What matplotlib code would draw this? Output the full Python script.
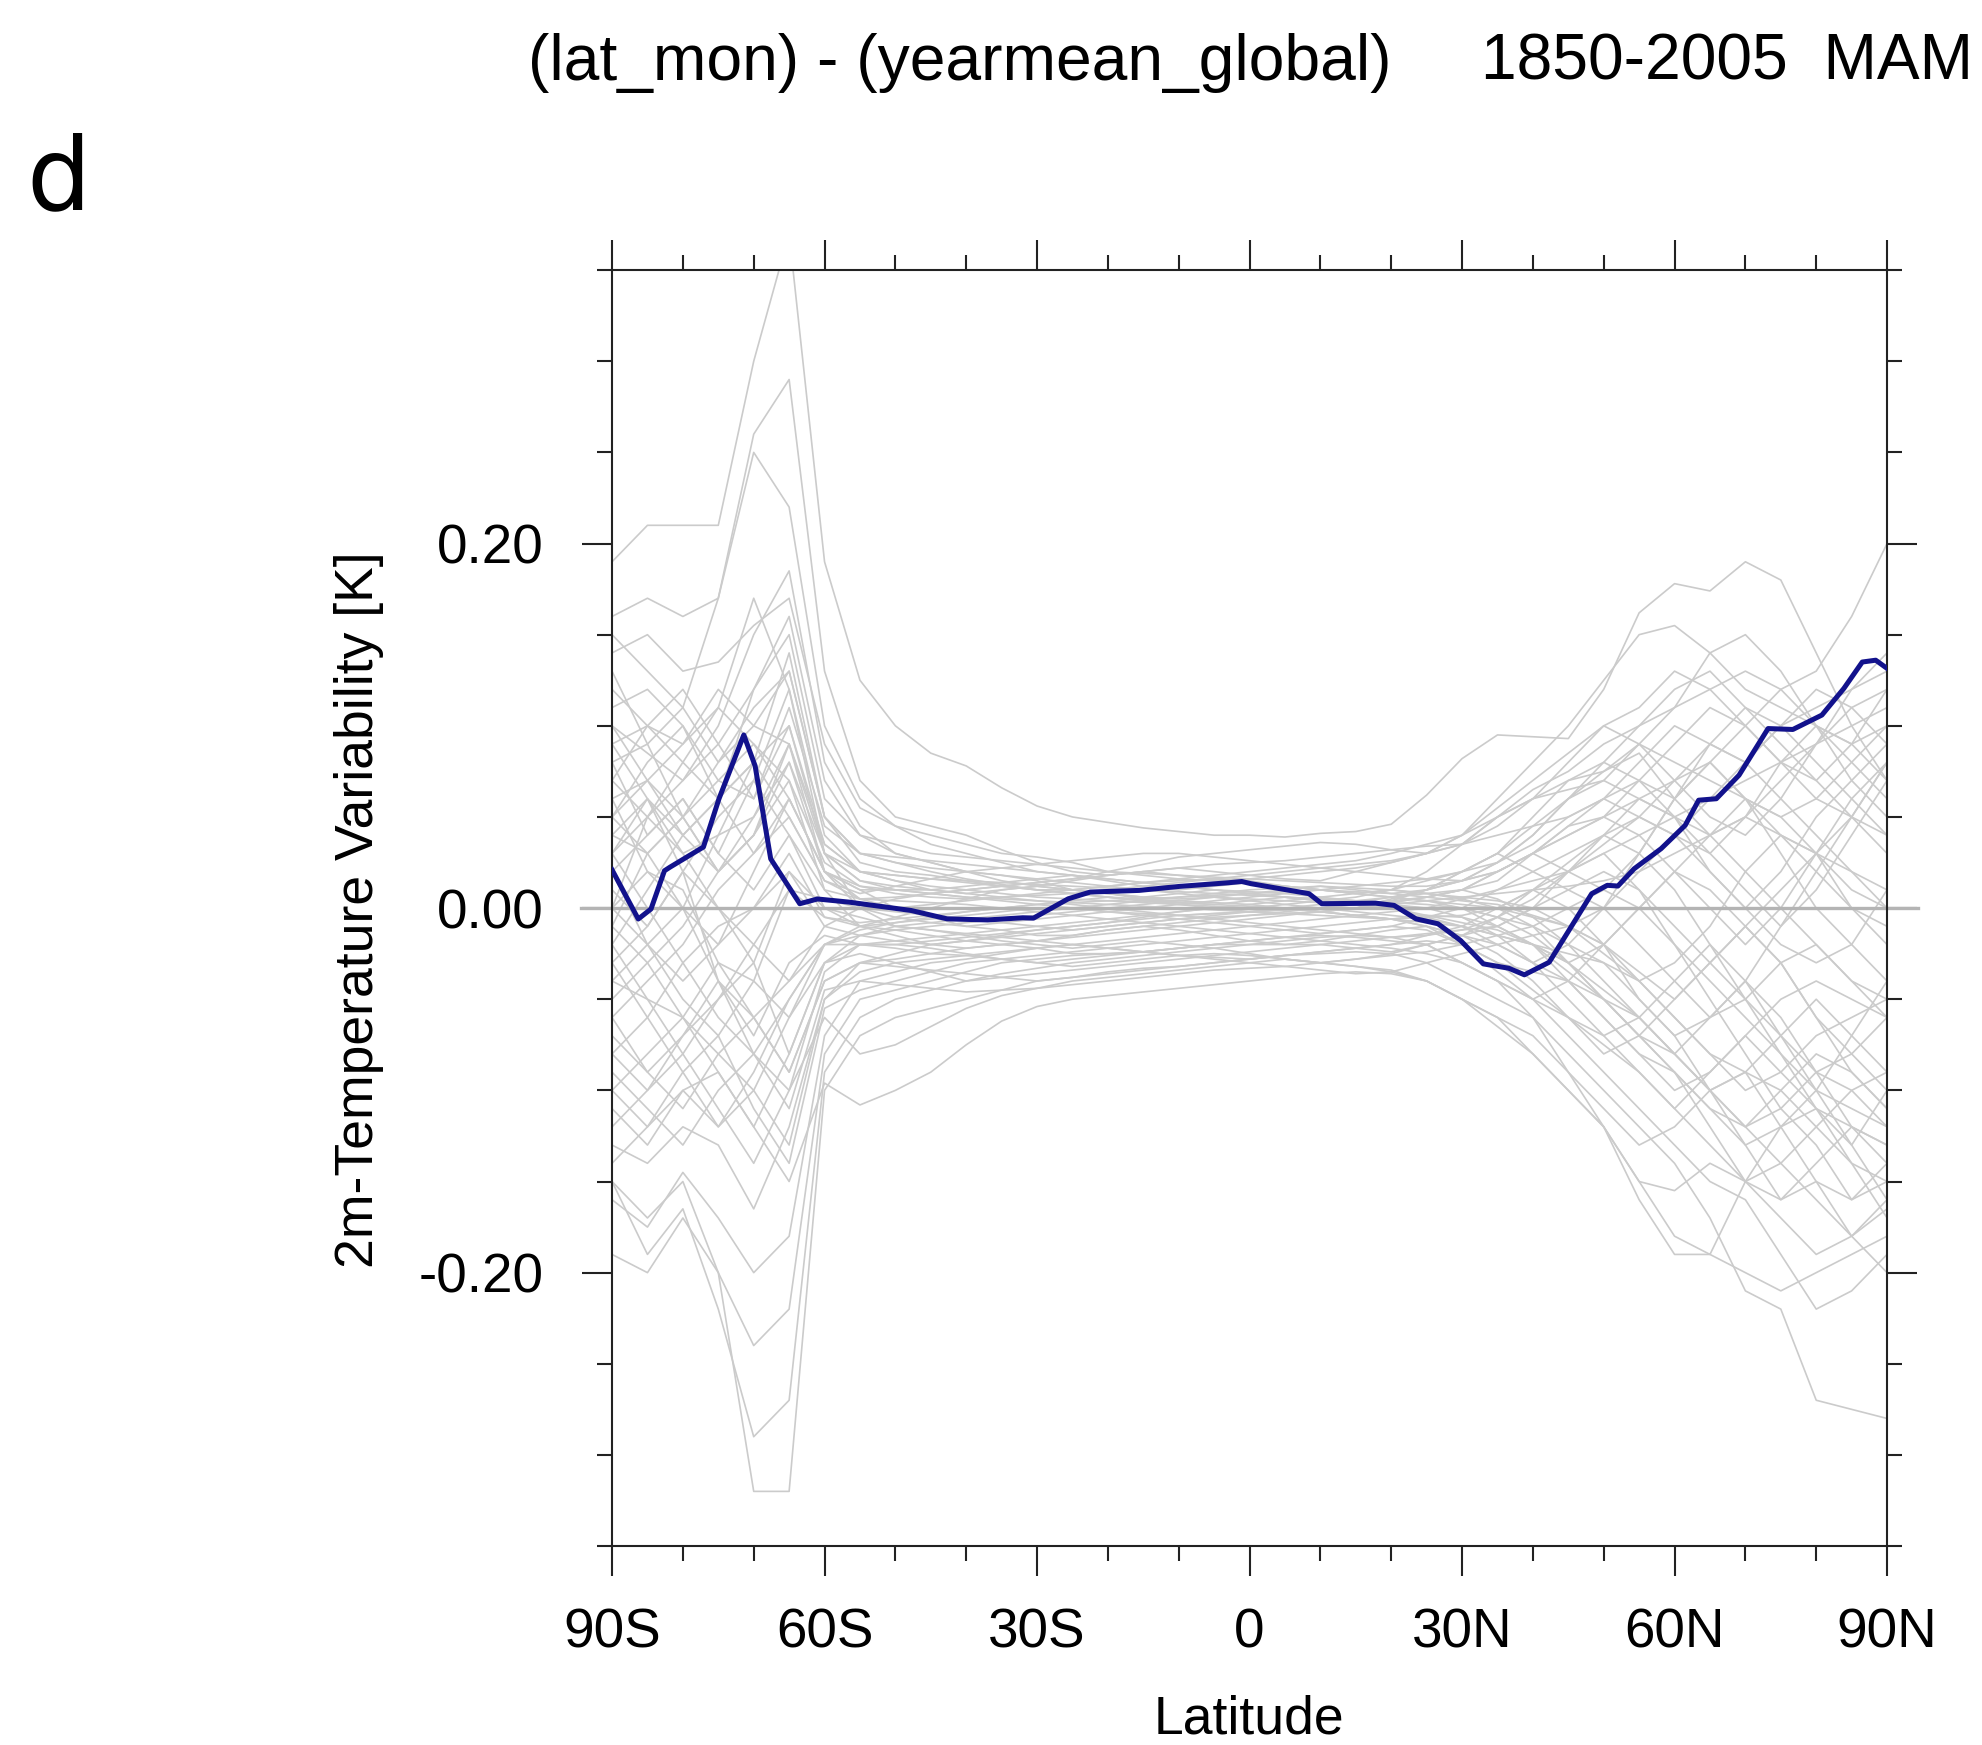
import matplotlib
import matplotlib.pyplot as plt
from matplotlib.ticker import MultipleLocator, FixedLocator

matplotlib.use("Agg")  # no display

# Latitude grid shared by the ensemble members (5 degree steps, 90S..90N)
lat_members = [-90, -85, -80, -75, -70, -65, -60, -55, -50, -45, -40, -35, -30,
               -25, -20, -15, -10, -5, 0, 5, 10, 15, 20, 25, 30, 35, 40, 45,
               50, 55, 60, 65, 70, 75, 80, 85, 90]

# Gray ensemble members, 2m temperature variability [K]
member_01 = [.19, .21, .21, .21, .30, .37, .19, .125, .10, .085, .078, .066, .056, .05, .047, .044, .042, .040, .040,
             .039, .041, .042, .046, .062, .082, .095, .094, .093, .12, .162, .178, .174, .19, .18, .14, .10, .07]
member_02 = [.16, .17, .16, .17, .26, .29, .13, .07, .05, .045, .04, .032, .025, .02, .018, .02, .022, .02, .018,
             .016, .015, .02, .025, .03, .035, .05, .06, .07, .075, .085, .06, .08, .10, .12, .13, .16, .20]
member_03 = [.14, .15, .13, .135, .155, .17, .09, .055, .045, .04, .035, .03, .028, .025, .02, .018, .016, .015, .016,
             .018, .02, .022, .025, .03, .04, .06, .08, .10, .125, .15, .155, .14, .12, .11, .10, .09, .10]
member_04 = [.08, .09, .11, .17, .25, .22, .10, .06, .045, .035, .03, .025, .02, .018, .015, .012, .01, .012, .014,
             .012, .01, .008, .01, .015, .02, .03, .045, .06, .07, .06, .05, .04, .05, .07, .09, .11, .12]
member_05 = [.10, .085, .07, .09, .12, .15, .06, .04, .03, .025, .02, .015, .012, .01, .008, .006, .005, .006, .008,
             .01, .012, .01, .008, .01, .015, .02, .03, .04, .05, .07, .09, .11, .10, .08, .06, .05, .03]
member_06 = [.03, .05, .07, .10, .15, .185, .08, .045, .03, .025, .02, .018, .015, .01, .008, .005, .003, .002, .004,
             .006, .004, .002, .0, -.005, -.01, -.015, -.02, -.03, -.05, -.07, -.09, -.11, -.12, -.10, -.08, -.09, -.11]
member_07 = [.09, .10, .09, .11, .17, .12, .04, .02, .015, .012, .01, .008, .006, .005, .004, .003, .002, .001, .0,
             .002, .004, .006, .01, .02, .035, .05, .065, .075, .09, .10, .11, .12, .13, .12, .10, .08, .06]
member_08 = [.12, .10, .08, .06, .08, .14, .05, .03, .025, .02, .016, .013, .01, .008, .006, .004, .002, .0, -.002,
             -.003, -.002, .0, .005, .01, .02, .03, .02, .01, .0, -.02, -.04, -.06, -.05, -.03, -.02, -.04, -.06]
member_09 = [.06, .07, .09, .12, .10, .09, .03, .015, .01, .008, .006, .004, .002, .0, -.002, -.003, -.004, -.003,
             -.002, -.001, .0, .002, .004, .01, .015, .025, .04, .06, .075, .09, .08, .07, .06, .05, .06, .08, .10]
member_10 = [.04, .03, .05, .08, .11, .13, .05, .025, .02, .018, .015, .012, .01, .01, .012, .014, .016, .018, .02,
             .022, .024, .026, .03, .035, .04, .05, .06, .065, .07, .09, .11, .14, .15, .13, .10, .07, .05]
member_11 = [.05, .03, .0, -.02, .02, .06, .02, .01, .0, -.005, -.01, -.012, -.015, -.015, -.012, -.01, -.012, -.015,
             -.018, -.02, -.018, -.015, -.012, -.01, -.015, -.02, -.03, -.04, -.06, -.08, -.10, -.09, -.07, -.05, -.04,
             -.05, -.06]
member_12 = [-.02, .01, .04, .06, .08, .10, .03, .0, -.01, -.012, -.015, -.018, -.02, -.022, -.02, -.018, -.02, -.022,
             -.025, -.028, -.03, -.028, -.025, -.02, -.015, -.01, .0, .01, .02, .01, -.01, -.03, -.05, -.07, -.10,
             -.13, -.16]
member_13 = [.07, .05, .03, .04, .05, .08, .02, .005, .0, .002, .004, .006, .008, .01, .012, .014, .015, .016, .015,
             .012, .01, .008, .006, .004, .0, -.01, -.02, -.03, -.02, .0, .02, .04, .06, .05, .03, .01, .0]
member_14 = [-.05, -.03, -.01, .02, .04, .07, .01, -.01, -.015, -.02, -.022, -.02, -.018, -.015, -.012, -.01, -.008,
             -.006, -.004, -.002, .0, .003, .006, .01, .02, .03, .05, .07, .08, .07, .05, .02, .0, -.02, -.03, -.02, .01]
member_15 = [.02, .04, .06, .03, .01, .04, .0, -.01, -.012, -.015, -.018, -.02, -.022, -.025, -.025, -.024, -.022,
             -.02, -.018, -.016, -.015, -.016, -.018, -.02, -.03, -.04, -.05, -.06, -.07, -.09, -.11, -.13, -.15, -.14,
             -.12, -.10, -.09]
member_16 = [-.08, -.06, -.03, -.01, .0, .02, -.01, -.015, -.018, -.02, -.018, -.015, -.012, -.01, -.008, -.005,
             -.002, .0, .002, .004, .006, .008, .01, .008, .005, .0, -.01, -.03, -.05, -.07, -.08, -.06, -.04, -.01,
             .02, .05, .08]
member_17 = [.0, -.02, -.04, -.02, .0, .03, -.005, -.01, -.005, .0, .005, .01, .012, .015, .018, .02, .022, .024,
             .025, .026, .028, .03, .032, .034, .035, .04, .045, .05, .06, .07, .06, .04, .02, .0, -.02, -.04, -.05]
member_18 = [-.04, -.05, -.06, -.03, -.04, -.06, -.03, -.02, -.02, -.022, -.025, -.028, -.03, -.032, -.03, -.028,
             -.026, -.025, -.026, -.028, -.03, -.032, -.035, -.04, -.05, -.06, -.08, -.10, -.12, -.15, -.18, -.19,
             -.15, -.12, -.11, -.14, -.17]
member_19 = [.03, .0, -.03, -.06, -.08, -.05, -.02, -.012, -.008, -.005, -.002, .0, .002, .004, .006, .005, .004,
             .003, .002, .0, -.002, -.004, -.006, -.01, -.02, -.035, -.05, -.07, -.09, -.11, -.13, -.15, -.16, -.19,
             -.22, -.21, -.19]
member_20 = [-.10, -.08, -.06, -.08, -.10, -.06, -.02, -.01, -.008, -.006, -.004, -.002, .0, .0, -.002, -.004, -.006,
             -.008, -.01, -.012, -.014, -.012, -.01, -.005, .0, .01, .02, .03, .04, .03, .01, -.02, -.05, -.08, -.11,
             -.12, -.13]
member_21 = [-.15, -.17, -.15, -.20, -.32, -.32, -.10, -.07, -.06, -.055, -.05, -.045, -.04, -.038, -.035, -.033,
             -.032, -.03, -.028, -.026, -.025, -.024, -.025, -.03, -.04, -.05, -.06, -.08, -.10, -.12, -.14, -.17,
             -.21, -.22, -.27, -.275, -.28]
member_22 = [-.15, -.19, -.165, -.22, -.29, -.27, -.09, -.06, -.05, -.045, -.04, -.036, -.033, -.03, -.028, -.026,
             -.024, -.022, -.02, -.018, -.016, -.015, -.016, -.02, -.03, -.04, -.06, -.09, -.12, -.15, -.155, -.14,
             -.15, -.16, -.15, -.18, -.165]
member_23 = [-.19, -.20, -.17, -.20, -.24, -.22, -.08, -.05, -.045, -.04, -.035, -.03, -.028, -.026, -.025, -.024,
             -.022, -.02, -.018, -.016, -.014, -.012, -.01, -.012, -.02, -.03, -.035, -.04, -.05, -.06, -.08, -.10,
             -.12, -.14, -.16, -.18, -.20]
member_24 = [-.16, -.175, -.145, -.17, -.20, -.18, -.07, -.04, -.035, -.03, -.028, -.025, -.022, -.02, -.018, -.016,
             -.014, -.012, -.01, -.008, -.006, -.004, -.002, .0, .005, .01, .015, .02, .03, .04, .05, .06, .07, .08,
             .09, .10, .11]
member_25 = [-.13, -.14, -.12, -.13, -.165, -.12, -.05, -.03, -.025, -.02, -.018, -.016, -.014, -.012, -.01, -.008,
             -.006, -.004, -.002, .0, .002, .004, .006, .008, .01, .005, -.005, -.02, -.04, -.06, -.08, -.10, -.12,
             -.11, -.09, -.10, -.12]
member_26 = [-.10, -.12, -.10, -.09, -.12, -.15, -.096, -.108, -.10, -.09, -.075, -.062, -.054, -.05, -.048, -.046,
             -.044, -.042, -.04, -.038, -.036, -.035, -.036, -.04, -.05, -.06, -.07, -.09, -.11, -.13, -.12, -.10,
             -.09, -.10, -.12, -.14, -.15]
member_27 = [-.12, -.10, -.08, -.11, -.14, -.10, -.06, -.08, -.075, -.065, -.055, -.048, -.044, -.04, -.038, -.036,
             -.034, -.032, -.03, -.028, -.03, -.032, -.034, -.04, -.05, -.065, -.08, -.10, -.12, -.16, -.19, -.19,
             -.20, -.21, -.20, -.19, -.18]
member_28 = [-.07, -.09, -.11, -.08, -.06, -.09, -.04, -.03, -.028, -.025, -.022, -.02, -.018, -.016, -.014, -.012,
             -.01, -.008, -.006, -.004, -.002, .0, .002, .004, .006, .008, .01, .012, .015, .02, .03, .04, .05, .04,
             .02, .0, -.01]
member_29 = [-.03, -.06, -.09, -.12, -.10, -.13, -.05, -.035, -.03, -.028, -.026, -.024, -.022, -.02, -.022, -.024,
             -.026, -.028, -.03, -.032, -.034, -.036, -.035, -.03, -.025, -.02, -.015, -.01, -.02, -.04, -.06, -.08,
             -.09, -.12, -.15, -.16, -.15]
member_30 = [.0, .02, .01, -.03, -.06, -.04, -.01, .0, .005, .008, .01, .012, .014, .016, .018, .02, .018, .016,
             .014, .012, .01, .008, .006, .004, .002, .0, -.005, -.01, .0, .02, .04, .06, .08, .10, .11, .12, .13]
member_31 = [.05, .07, .05, .02, .05, .09, .035, .02, .018, .016, .015, .014, .013, .012, .011, .01, .009, .008, .007,
             .006, .005, .004, .003, .002, .0, -.005, -.01, -.02, -.03, -.04, -.06, -.08, -.10, -.09, -.07, -.06, -.05]
member_32 = [.09, .06, .03, .0, -.02, .01, .005, .0, -.002, -.004, -.006, -.008, -.01, -.012, -.01, -.008, -.006,
             -.005, -.004, -.003, -.002, .0, .003, .006, .01, .015, .03, .045, .06, .05, .04, .02, .0, .02, .05, .07,
             .09]
member_33 = [-.06, -.04, -.02, .01, .03, .05, .015, .005, .004, .003, .002, .0, -.002, -.004, -.006, -.008, -.01,
             -.012, -.014, -.016, -.018, -.02, -.022, -.025, -.03, -.04, -.05, -.04, -.02, .0, .02, .01, -.01, -.03,
             -.06, -.08, -.10]
member_34 = [.11, .12, .10, .07, .06, .11, .045, .03, .028, .026, .024, .022, .02, .018, .016, .014, .012, .01, .008,
             .006, .005, .004, .003, .006, .01, .02, .03, .04, .05, .06, .07, .08, .06, .04, .03, .05, .08]
member_35 = [-.09, -.11, -.13, -.10, -.08, -.11, -.045, -.04, -.042, -.044, -.046, -.045, -.044, -.042, -.04, -.038,
             -.036, -.034, -.033, -.032, -.03, -.028, -.026, -.024, -.02, -.015, -.01, .0, .01, .0, -.02, -.04, -.06,
             -.08, -.10, -.11, -.12]
member_36 = [.01, -.01, .02, .05, .07, .04, .01, .005, .006, .008, .01, .012, .014, .016, .02, .024, .028, .03, .032,
             .034, .036, .035, .032, .03, .035, .045, .06, .08, .10, .09, .07, .05, .04, .06, .09, .12, .14]
member_37 = [.08, .04, .06, .03, .07, .12, .03, .02, .015, .01, .008, .01, .012, .01, .008, .006, .008, .01, .009,
             .008, .006, .004, .002, .0, -.005, -.015, -.03, -.05, -.07, -.06, -.04, -.02, -.04, -.07, -.09, -.08, -.06]
member_38 = [-.01, .03, .05, .02, .04, .09, .02, .0, -.005, -.008, -.01, -.008, -.006, -.004, -.002, .0, .002, .004,
             .006, .008, .01, .012, .014, .016, .02, .025, .035, .05, .06, .08, .10, .09, .08, .10, .12, .11, .09]
member_39 = [.04, .06, .02, -.04, -.07, -.03, -.015, -.02, -.022, -.025, -.026, -.028, -.03, -.028, -.026, -.024,
             -.022, -.02, -.02, -.02, -.02, -.022, -.024, -.02, -.015, -.005, .01, .0, -.02, -.05, -.07, -.10, -.13,
             -.16, -.14, -.12, -.13]
member_40 = [.13, .09, .05, .07, .09, .07, .025, .012, .008, .006, .005, .006, .007, .008, .01, .012, .014, .016,
             .018, .02, .022, .024, .026, .03, .04, .055, .07, .085, .10, .11, .13, .12, .10, .08, .07, .09, .12]
member_41 = [-.06, -.09, -.07, -.05, -.03, -.08, -.03, -.025, -.03, -.035, -.04, -.038, -.036, -.034, -.032, -.03,
             -.028, -.026, -.024, -.022, -.02, -.018, -.016, -.014, -.012, -.01, .0, .02, .03, .01, -.02, -.05, -.08,
             -.11, -.13, -.16, -.14]
member_42 = [.02, -.02, -.05, -.07, -.04, .01, -.005, -.008, -.006, -.004, -.002, .0, .002, .003, .004, .005, .006,
             .007, .008, .009, .01, .009, .008, .006, .004, .002, -.004, -.01, -.02, -.035, -.05, -.03, -.01, .01, .03,
             .02, .01]
member_43 = [.07, .10, .12, .09, .06, .10, .035, .02, .018, .016, .014, .012, .01, .008, .006, .004, .003, .002, .001,
             .0, -.002, -.004, -.006, -.008, -.01, -.015, -.02, -.025, -.03, -.05, -.07, -.06, -.04, -.06, -.09, -.12,
             -.14]
member_44 = [-.11, -.13, -.10, -.12, -.09, -.05, -.02, -.02, -.02, -.018, -.016, -.014, -.012, -.01, -.008, -.006,
             -.004, -.003, -.002, -.001, .0, .002, .004, .006, .01, .02, .03, .02, .01, .03, .06, .08, .06, .03, .0,
             -.02, -.04]
member_45 = [.0, .05, .08, .11, .09, .06, .02, .01, .01, .01, .012, .014, .016, .018, .016, .014, .012, .01, .008,
             .006, .004, .002, .0, -.004, -.008, -.012, -.02, -.04, -.06, -.08, -.09, -.11, -.13, -.12, -.10, -.07,
             -.04]
member_46 = [-.03, -.01, .02, .0, -.03, .02, .0, -.005, -.01, -.012, -.014, -.016, -.018, -.02, -.022, -.024, -.026,
             -.027, -.028, -.026, -.024, -.022, -.02, -.015, -.01, .0, .01, .02, .04, .06, .05, .03, .01, -.01, .01,
             .04, .07]
member_47 = [.06, .02, .0, .04, .08, .05, .015, .008, .012, .016, .02, .022, .024, .026, .028, .03, .03, .028, .026,
             .024, .022, .02, .018, .016, .015, .02, .03, .045, .05, .04, .02, .0, -.02, .0, .03, .06, .08]
member_48 = [-.08, -.10, -.07, -.04, -.06, -.09, -.04, -.03, -.032, -.034, -.036, -.038, -.04, -.038, -.036, -.034,
             -.032, -.03, -.028, -.026, -.024, -.022, -.02, -.018, -.02, -.03, -.045, -.06, -.075, -.09, -.11, -.09,
             -.07, -.09, -.11, -.13, -.10]
member_49 = [.15, .13, .11, .08, .10, .13, .05, .03, .025, .022, .02, .018, .016, .014, .012, .01, .008, .006, .004,
             .002, .0, -.002, -.004, -.006, -.01, -.02, -.03, -.02, .0, .03, .06, .09, .11, .10, .08, .06, .04]
member_50 = [-.14, -.12, -.09, -.07, -.11, -.14, -.055, -.045, -.04, -.035, -.03, -.028, -.026, -.024, -.022, -.02,
             -.018, -.016, -.014, -.012, -.01, -.008, -.006, -.004, -.005, -.01, -.02, -.035, -.05, -.07, -.09, -.12,
             -.15, -.17, -.19, -.18, -.16]
member_51 = [.03, .06, .04, .06, .12, .16, .07, .04, .035, .03, .028, .026, .024, .022, .02, .019, .018, .017, .016,
             .015, .014, .013, .012, .012, .015, .025, .04, .06, .08, .10, .12, .13, .11, .09, .07, .05, .04]
member_52 = [-.02, -.05, -.08, -.05, -.02, -.04, -.02, -.015, -.012, -.01, -.008, -.006, -.004, -.002, .0, .002, .004,
             .006, .005, .004, .003, .002, .001, .0, .0, -.005, -.015, -.03, -.045, -.06, -.08, -.10, -.09, -.07, -.05,
             -.07, -.09]
member_53 = [.05, .08, .10, .06, .03, .06, .02, .012, .01, .008, .006, .005, .004, .003, .002, .001, .0, -.001, -.002,
             -.003, -.004, -.005, -.006, -.005, -.004, .0, .01, .025, .04, .05, .04, .03, .05, .08, .10, .09, .07]
member_54 = [-.04, -.02, .0, -.04, -.08, -.10, -.035, -.02, -.018, -.016, -.014, -.012, -.01, -.008, -.006, -.004,
             -.002, .0, .0, .0, -.002, -.004, -.006, -.01, -.015, -.025, -.04, -.06, -.08, -.07, -.05, -.03, -.01,
             -.03, -.06, -.09, -.11]
member_55 = [.10, .07, .04, .02, .04, .08, .03, .015, .012, .01, .008, .006, .004, .002, .0, -.002, -.004, -.006,
             -.008, -.01, -.012, -.014, -.016, -.015, -.012, -.005, .005, .02, .035, .05, .07, .09, .08, .06, .04, .02,
             .0]
member_56 = [-.01, -.03, -.06, -.09, -.12, -.08, -.03, -.015, -.01, -.008, -.006, -.004, -.002, .0, .002, .004, .006,
             .008, .01, .011, .012, .011, .01, .008, .006, .004, .0, -.01, -.025, -.04, -.03, -.01, .02, .04, .03, .0,
             -.02]

# Blue highlighted series
lat_blue = [-90.0, -86.3, -84.5, -82.6, -81.8, -77.1, -74.9, -71.4, -69.8, -67.6, -63.5, -61.0, -56.6, -47.8,
            -42.7, -37.0, -32.0, -30.5, -25.6, -22.5, -15.6, -9.9, -3.0, -1.1, 0.2, 8.4, 10.2, 17.8, 20.4, 23.5,
            26.6, 29.8, 33.0, 36.6, 38.8, 42.3, 44.2, 48.3, 50.5, 52.0, 54.3, 58.1, 61.5, 63.4, 65.9, 69.1, 73.2,
            76.7, 80.8, 83.9, 86.5, 88.4, 90.0]
val_blue = [0.021, -0.006, -0.0005, 0.0205, 0.0225, 0.0335, 0.060, 0.095, 0.078, 0.027, 0.0024, 0.005, 0.0033,
            -0.0013, -0.0059, -0.0065, -0.0053, -0.0055, 0.0051, 0.0088, 0.0097, 0.0119, 0.0139, 0.0146, 0.0134,
            0.0079, 0.0024, 0.0027, 0.0015, -0.0059, -0.0086, -0.0178, -0.0306, -0.033, -0.0366, -0.0297, -0.0178,
            0.0079, 0.0125, 0.0121, 0.0216, 0.0326, 0.0454, 0.0592, 0.060, 0.0729, 0.0985, 0.098, 0.1059, 0.1205,
            0.135, 0.136, 0.1315]

# Axis ticks
xtick_pos = [-90, -60, -30, 0, 30, 60, 90]
xtick_labels = ["90S", "60S", "30S", "0", "30N", "60N", "90N"]
ytick_pos = [-0.2, 0.0, 0.2]
ytick_labels = ["-0.20", "0.00", "0.20"]

members = [member_01, member_02, member_03, member_04, member_05, member_06, member_07, member_08, member_09,
           member_10, member_11, member_12, member_13, member_14, member_15, member_16, member_17, member_18,
           member_19, member_20, member_21, member_22, member_23, member_24, member_25, member_26, member_27,
           member_28, member_29, member_30, member_31, member_32, member_33, member_34, member_35, member_36,
           member_37, member_38, member_39, member_40, member_41, member_42, member_43, member_44, member_45,
           member_46, member_47, member_48, member_49, member_50, member_51, member_52, member_53, member_54,
           member_55, member_56]

plt.rcParams["font.family"] = ["Liberation Sans", "DejaVu Sans"]

fig = plt.figure(figsize=(19.82, 17.45), dpi=100)
ax = fig.add_axes([0.3088, 0.1140, 0.6433, 0.7312])

# Ensemble spaghetti
for m in members:
    ax.plot(lat_members, m, color="#cbcbcb", linewidth=1.2, zorder=1)

# Zero reference line (runs over the tick marks like the original)
ax.axhline(0.0, xmin=-0.024, xmax=1.024, color="#b4b4b4", linewidth=2.4, zorder=2, clip_on=False)

# Highlighted series
ax.plot(lat_blue, val_blue, color="#12128c", linewidth=3.6, zorder=3)

ax.set_xlim(-90, 90)
ax.set_ylim(-0.35, 0.35)

ax.xaxis.set_major_locator(FixedLocator(xtick_pos))
ax.set_xticklabels(xtick_labels)
ax.xaxis.set_minor_locator(MultipleLocator(10))
ax.yaxis.set_major_locator(FixedLocator(ytick_pos))
ax.set_yticklabels(ytick_labels)
ax.yaxis.set_minor_locator(MultipleLocator(0.05))

ax.tick_params(which="both", direction="out", top=True, right=True, width=1.5, color="#222222")
ax.tick_params(which="major", length=21.5, labelsize=39.5)
ax.tick_params(which="minor", length=10.8)
ax.tick_params(axis="x", which="major", pad=23)
ax.tick_params(axis="y", which="major", pad=28)
for sp in ax.spines.values():
    sp.set_linewidth(1.5)
    sp.set_color("#222222")

# Axis labels
fig.text(359 / 1982, 0.4785, "2m-Temperature Variability [K]", rotation=90,
         ha="center", va="center", fontsize=38.5)
fig.text(1249 / 1982, 1 - 1734 / 1745, "Latitude", ha="center", va="baseline", fontsize=38.5)

# Title strings and panel letter
fig.text(528 / 1982, 1 - 80 / 1745, "(lat_mon) - (yearmean_global)", ha="left", va="baseline", fontsize=46.2)
fig.text(1481 / 1982, 1 - 80 / 1745, "1850-2005  MAM", ha="left", va="baseline", fontsize=46.2)
fig.text(26 / 1982, 1 - 209 / 1745, "d", ha="left", va="baseline", fontsize=73, family="DejaVu Sans")

fig.savefig("out.png", dpi=100, facecolor="white")
plt.close(fig)
